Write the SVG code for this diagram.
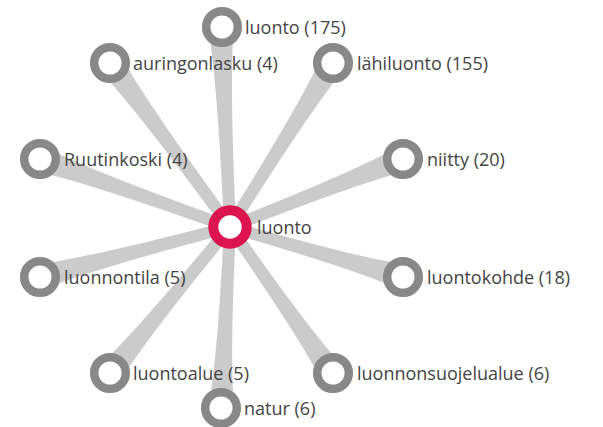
<svg xmlns="http://www.w3.org/2000/svg" width="603" height="427" viewBox="0 0 603 427">
<style>
.edge{fill:#cbcbcb}
.leaf circle{fill:#fff;stroke:#888;stroke-width:8.5}
.center circle{fill:#fff;stroke:#dc1450;stroke-width:10}
text{font-family:"Open Sans","Liberation Sans",sans-serif;font-size:18px;fill:#444;dominant-baseline:central}
</style>
<rect width="603" height="427" fill="#fff"/>
<g id="connectors">
<path class="edge" transform="translate(230,227) rotate(-92.6)" d="M0,-6 Q150,-6 200,-13 L200,13 Q150,6 0,6 Z"/>
<path class="edge" transform="translate(230,227) rotate(-126.2)" d="M0,-6 Q152,-6 203,-13 L203,13 Q152,6 0,6 Z"/>
<path class="edge" transform="translate(230,227) rotate(-57.9)" d="M0,-6 Q145,-6 194,-13 L194,13 Q145,6 0,6 Z"/>
<path class="edge" transform="translate(230,227) rotate(-160.3)" d="M0,-6 Q151,-6 202,-13 L202,13 Q151,6 0,6 Z"/>
<path class="edge" transform="translate(230,227) rotate(-21.5)" d="M0,-6 Q139,-6 186,-13 L186,13 Q139,6 0,6 Z"/>
<path class="edge" transform="translate(230,227) rotate(165.3)" d="M0,-6 Q147,-6 196,-13 L196,13 Q147,6 0,6 Z"/>
<path class="edge" transform="translate(230,227) rotate(16.1)" d="M0,-6 Q135,-6 180,-13 L180,13 Q135,6 0,6 Z"/>
<path class="edge" transform="translate(230,227) rotate(129.4)" d="M0,-6 Q142,-6 189,-13 L189,13 Q142,6 0,6 Z"/>
<path class="edge" transform="translate(230,227) rotate(55.1)" d="M0,-6 Q133,-6 178,-13 L178,13 Q133,6 0,6 Z"/>
<path class="edge" transform="translate(230,227) rotate(92.8)" d="M0,-6 Q136,-6 181,-13 L181,13 Q136,6 0,6 Z"/>
</g>
<g id="n-luonto175" class="leaf"><circle cx="222" cy="27" r="15.8"/><text x="245" y="27">luonto (175)</text></g>
<g id="n-auringonlasku" class="leaf"><circle cx="110" cy="63" r="15.8"/><text x="133" y="63">auringonlasku (4)</text></g>
<g id="n-lahiluonto" class="leaf"><circle cx="333" cy="63" r="15.8"/><text x="357" y="63">lähiluonto (155)</text></g>
<g id="n-ruutinkoski" class="leaf"><circle cx="40" cy="159" r="15.8"/><text x="64" y="159">Ruutinkoski (4)</text></g>
<g id="n-niitty" class="leaf"><circle cx="403" cy="159" r="15.8"/><text x="427" y="159">niitty (20)</text></g>
<g id="n-luonnontila" class="leaf"><circle cx="40" cy="277" r="15.8"/><text x="64" y="277">luonnontila (5)</text></g>
<g id="n-luontokohde" class="leaf"><circle cx="403" cy="277" r="15.8"/><text x="427" y="277">luontokohde (18)</text></g>
<g id="n-luontoalue" class="leaf"><circle cx="110" cy="373" r="15.8"/><text x="133" y="373">luontoalue (5)</text></g>
<g id="n-luonnonsuojelualue" class="leaf"><circle cx="333" cy="373" r="15.8"/><text x="357" y="373">luonnonsuojelualue (6)</text></g>
<g id="n-natur" class="leaf"><circle cx="221" cy="408" r="15.8"/><text x="244" y="408">natur (6)</text></g>
<g id="n-center" class="center"><circle cx="230" cy="227" r="16.7"/><text x="257" y="227">luonto</text></g>
</svg>
